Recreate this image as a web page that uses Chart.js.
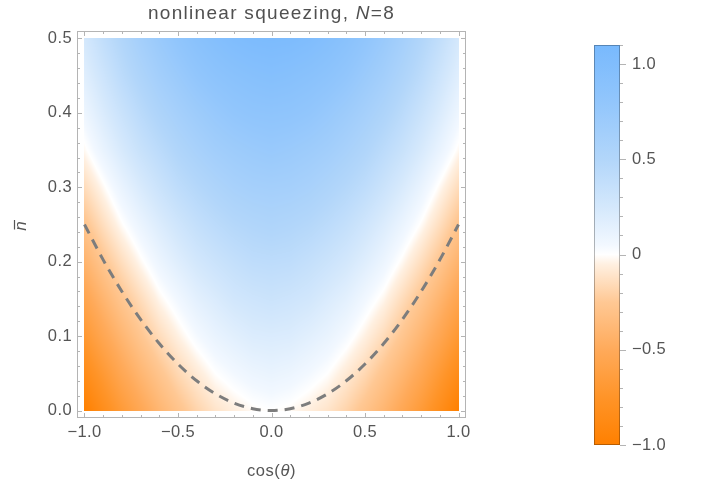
<!DOCTYPE html>
<html><head><meta charset="utf-8">
<script src="https://cdn.jsdelivr.net/npm/chart.js@4.4.1/dist/chart.umd.min.js"></script>
<style>
html,body{margin:0;padding:0;background:#fff;}
#wrap{position:relative;width:704px;height:487px;overflow:hidden;}
#wrap canvas{position:absolute;left:0;top:0;}
</style></head><body>
<div id="wrap"><canvas id="main" width="704" height="487"></canvas><canvas id="cbar" width="704" height="487"></canvas></div>
<script>
// ---------- data ----------
const cosTheta = [-1.0,-0.9,-0.8,-0.7,-0.6,-0.5,-0.4,-0.3,-0.2,-0.1,0.0,0.1,0.2,0.3,0.4,0.5,0.6,0.7,0.8,0.9,1.0];
const nBar = [0.0,0.05,0.10,0.15,0.20,0.25,0.30,0.35,0.40,0.45,0.50];
const squeezing = [
 [-1.00,-0.83,-0.67,-0.53,-0.40,-0.29,-0.19,-0.11,-0.06,-0.02,0.00,-0.02,-0.06,-0.11,-0.19,-0.29,-0.40,-0.53,-0.67,-0.83,-1.00],
 [-0.85,-0.69,-0.53,-0.40,-0.28,-0.17,-0.08,0.00,0.05,0.09,0.11,0.09,0.05,0.00,-0.08,-0.17,-0.28,-0.40,-0.53,-0.69,-0.85],
 [-0.70,-0.54,-0.40,-0.27,-0.15,-0.05,0.04,0.11,0.16,0.20,0.21,0.20,0.16,0.11,0.04,-0.05,-0.15,-0.27,-0.40,-0.54,-0.70],
 [-0.56,-0.41,-0.27,-0.15,-0.03,0.06,0.15,0.21,0.27,0.30,0.32,0.30,0.27,0.21,0.15,0.06,-0.03,-0.15,-0.27,-0.41,-0.56],
 [-0.42,-0.27,-0.14,-0.02,0.09,0.18,0.26,0.32,0.37,0.41,0.42,0.41,0.37,0.32,0.26,0.18,0.09,-0.02,-0.14,-0.27,-0.42],
 [-0.28,-0.14,-0.01,0.10,0.20,0.29,0.37,0.43,0.48,0.51,0.53,0.51,0.48,0.43,0.37,0.29,0.20,0.10,-0.01,-0.14,-0.28],
 [-0.15,-0.02,0.11,0.22,0.32,0.41,0.48,0.54,0.59,0.62,0.63,0.62,0.59,0.54,0.48,0.41,0.32,0.22,0.11,-0.02,-0.15],
 [-0.02,0.11,0.23,0.34,0.43,0.52,0.59,0.65,0.69,0.72,0.74,0.72,0.69,0.65,0.59,0.52,0.43,0.34,0.23,0.11,-0.02],
 [0.08,0.21,0.33,0.44,0.54,0.62,0.69,0.75,0.80,0.83,0.84,0.83,0.80,0.75,0.69,0.62,0.54,0.44,0.33,0.21,0.08],
 [0.17,0.30,0.43,0.54,0.64,0.72,0.80,0.86,0.90,0.93,0.95,0.93,0.90,0.86,0.80,0.72,0.64,0.54,0.43,0.30,0.17],
 [0.25,0.39,0.51,0.63,0.73,0.82,0.90,0.96,1.01,1.04,1.05,1.04,1.01,0.96,0.90,0.82,0.73,0.63,0.51,0.39,0.25]
];
const curveCos = [-1.0,-0.9,-0.8,-0.7,-0.6,-0.5,-0.4,-0.3,-0.2,-0.1,0.0,0.1,0.2,0.3,0.4,0.5,0.6,0.7,0.8,0.9,1.0];
const curveN   = [0.25,0.2025,0.16,0.1225,0.09,0.0625,0.04,0.0225,0.01,0.0025,0.0,0.0025,0.01,0.0225,0.04,0.0625,0.09,0.1225,0.16,0.2025,0.25];

const xTickValues = [-1,-0.5,0,0.5,1];
const xTickLabels = ['\u22121.0','\u22120.5','0.0','0.5','1.0'];
const yTickValues = [0,0.1,0.2,0.3,0.4,0.5];
const yTickLabels = ['0.0','0.1','0.2','0.3','0.4','0.5'];
const barTickValues = [-1,-0.5,0,0.5,1];
const barTickLabels = ['\u22121.0','\u22120.5','0','0.5','1.0'];
const barRange = [-1,1.1];

// ---------- style ----------
const cmapStops = [-1.0,-0.75,-0.5,-0.25,-0.05,0,0.05,0.25,0.5,0.8,1.1];
const cmapRGB = [[255,128,0],[255,148,40],[255,170,90],[255,200,148],[255,240,225],[255,255,255],
                 [242,248,255],[212,232,252],[178,214,250],[146,198,252],[120,185,253]];
const FONT = "'Liberation Sans', Arial, Helvetica, sans-serif";
const TXT = '#555555';
const FRAME = '#b4b4b4';
const TICKSIZE = 16.5;

function cmap(v){
  if (v <= cmapStops[0]) return cmapRGB[0];
  const n = cmapStops.length;
  if (v >= cmapStops[n-1]) return cmapRGB[n-1];
  for (let k=0;k<n-1;k++){
    if (v <= cmapStops[k+1]){
      const t = (v-cmapStops[k])/(cmapStops[k+1]-cmapStops[k]);
      const a = cmapRGB[k], b = cmapRGB[k+1];
      return [a[0]+(b[0]-a[0])*t, a[1]+(b[1]-a[1])*t, a[2]+(b[2]-a[2])*t];
    }
  }
  return cmapRGB[n-1];
}
function locate(arr, v){
  if (v <= arr[0]) return [0,0];
  const n = arr.length;
  if (v >= arr[n-1]) return [n-2,1];
  for (let k=0;k<n-1;k++){
    if (v <= arr[k+1]) return [k,(v-arr[k])/(arr[k+1]-arr[k])];
  }
  return [n-2,1];
}
function sample(xv, nv){
  const [i,tx] = locate(cosTheta, xv);
  const [j,ty] = locate(nBar, nv);
  const a = squeezing[j][i], b = squeezing[j][i+1], c = squeezing[j+1][i], d = squeezing[j+1][i+1];
  return (a*(1-tx)+b*tx)*(1-ty) + (c*(1-tx)+d*tx)*ty;
}
function range(a,b,s){ const out=[]; const n=Math.round((b-a)/s); for(let k=0;k<=n;k++) out.push(+(a+k*s).toFixed(4)); return out; }
const xMinor = range(-1,1,0.1);
const yMinor = range(0,0.5,0.02);
const barMinor = range(-1,1.1,0.1);

// ---------- main chart plugins ----------
const spacingPlugin = { id:'spacing', beforeDraw(chart){ chart.ctx.letterSpacing = '0.4px'; } };

const heatPlugin = {
  id:'heat',
  beforeDatasetsDraw(chart){
    const {ctx, scales:{x,y}} = chart;
    const left = Math.round(x.getPixelForValue(cosTheta[0]));
    const right = Math.round(x.getPixelForValue(cosTheta[cosTheta.length-1]));
    const top = Math.round(y.getPixelForValue(nBar[nBar.length-1]));
    const bottom = Math.round(y.getPixelForValue(nBar[0]));
    const w = right-left, h = bottom-top;
    const off = document.createElement('canvas'); off.width = w; off.height = h;
    const octx = off.getContext('2d');
    const img = octx.createImageData(w,h);
    for (let j=0;j<h;j++){
      const nv = y.getValueForPixel(top+j+0.5);
      for (let i=0;i<w;i++){
        const xv = x.getValueForPixel(left+i+0.5);
        const c = cmap(sample(xv,nv));
        const p = (j*w+i)*4;
        img.data[p]=c[0]; img.data[p+1]=c[1]; img.data[p+2]=c[2]; img.data[p+3]=255;
      }
    }
    octx.putImageData(img,0,0);
    ctx.save();
    ctx.drawImage(off,left,top);
    ctx.restore();
  }
};

const framePlugin = {
  id:'frame',
  afterDraw(chart){
    const {ctx, chartArea:a, scales:{x,y}} = chart;
    ctx.save();
    ctx.strokeStyle = FRAME; ctx.lineWidth = 1;
    ctx.strokeRect(a.left+0.5, a.top+0.5, a.right-a.left-1, a.bottom-a.top-1);
    ctx.beginPath();
    const tick = (vals, len, isX) => {
      vals.forEach(v=>{
        if (isX){
          const px = Math.round(x.getPixelForValue(v))+0.5;
          ctx.moveTo(px,a.bottom); ctx.lineTo(px,a.bottom-len);
          ctx.moveTo(px,a.top); ctx.lineTo(px,a.top+len);
        } else {
          const py = Math.round(y.getPixelForValue(v))+0.5;
          ctx.moveTo(a.left,py); ctx.lineTo(a.left+len,py);
          ctx.moveTo(a.right,py); ctx.lineTo(a.right-len,py);
        }
      });
    };
    tick(xMinor,3,true); tick(xTickValues,5,true);
    tick(yMinor,3,false); tick(yTickValues,5,false);
    ctx.stroke();

    // title
    ctx.fillStyle = '#505050';
    ctx.textBaseline = 'alphabetic';
    ctx.textAlign = 'left';
    ctx.letterSpacing = '1.3px';
    const parts = [['nonlinear squeezing, ','normal'],['N','italic'],['=8','normal']];
    const fs = 19;
    let tot = 0;
    parts.forEach(p=>{ ctx.font = p[1]+' '+fs+'px '+FONT; tot += ctx.measureText(p[0]).width; });
    let cx = (a.left+a.right)/2 - tot/2;
    parts.forEach(p=>{ ctx.font = p[1]+' '+fs+'px '+FONT; ctx.fillText(p[0],cx,19); cx += ctx.measureText(p[0]).width; });

    // x axis label
    ctx.fillStyle = TXT;
    ctx.letterSpacing = '0.6px';
    const xl = [['cos(','normal'],['\u03b8','italic'],[')','normal']];
    tot = 0;
    xl.forEach(p=>{ ctx.font = p[1]+' '+TICKSIZE+'px '+FONT; tot += ctx.measureText(p[0]).width; });
    cx = (a.left+a.right)/2 - tot/2;
    xl.forEach(p=>{ ctx.font = p[1]+' '+TICKSIZE+'px '+FONT; ctx.fillText(p[0],cx,476); cx += ctx.measureText(p[0]).width; });

    // y axis label (n with overbar)
    ctx.translate(26,226);
    ctx.rotate(-Math.PI/2);
    ctx.font = 'italic 17px '+FONT;
    ctx.letterSpacing = '0px';
    ctx.textAlign = 'center';
    ctx.fillText('n',0,0);
    ctx.strokeStyle = TXT; ctx.lineWidth = 1.2;
    ctx.beginPath(); ctx.moveTo(-3.5,-11.5); ctx.lineTo(6,-11.5); ctx.stroke();
    ctx.restore();
  }
};

new Chart(document.getElementById('main'), {
  type:'scatter',
  data:{ datasets:[{
    data: curveCos.map((c,i)=>({x:c,y:curveN[i]})),
    showLine:true, pointRadius:0, borderColor:'rgb(125,125,125)', borderWidth:3,
    borderDash:[10,7], cubicInterpolationMode:'monotone', fill:false
  }]},
  options:{
    responsive:false, animation:false, devicePixelRatio:1,
    layout:{ padding:{ left:0, right:238, top:31, bottom:0 } },
    plugins:{ legend:{display:false}, title:{display:false}, tooltip:{enabled:false} },
    scales:{
      x:{ type:'linear', min:-1.04, max:1.04,
          afterBuildTicks:(s)=>{ s.ticks = xTickValues.map(v=>({value:v})); },
          afterFit:(s)=>{ s.height = 69; },
          ticks:{ autoSkip:false, maxRotation:0, padding:5, color:TXT, font:{family:FONT,size:TICKSIZE},
                  callback:(v,i)=>xTickLabels[i] },
          grid:{ display:false, drawTicks:false, tickLength:0 }, border:{display:false} },
      y:{ type:'linear', min:-0.01, max:0.51,
          afterBuildTicks:(s)=>{ s.ticks = yTickValues.map(v=>({value:v})); },
          afterFit:(s)=>{ s.width = 77; },
          ticks:{ autoSkip:false, padding:5, color:TXT, font:{family:FONT,size:TICKSIZE},
                  callback:(v,i)=>yTickLabels[i] },
          grid:{ display:false, drawTicks:false, tickLength:0 }, border:{display:false} }
    }
  },
  plugins:[spacingPlugin, heatPlugin, framePlugin]
});

// ---------- colour bar ----------
function barGradient(chart, dark){
  const {ctx, scales:{y}} = chart;
  const y0 = y.getPixelForValue(barRange[0]), y1 = y.getPixelForValue(barRange[1]);
  const g = ctx.createLinearGradient(0,y0,0,y1);
  cmapStops.forEach((v,k)=>{
    const c = cmapRGB[k], f = dark ? 0.72 : 1;
    g.addColorStop((v-barRange[0])/(barRange[1]-barRange[0]),
      'rgb('+Math.round(c[0]*f)+','+Math.round(c[1]*f)+','+Math.round(c[2]*f)+')');
  });
  return g;
}
const cbarPlugin = {
  id:'cbarDeco',
  afterDraw(chart){
    const {ctx, chartArea:a, scales:{y}} = chart;
    ctx.save();
    ctx.strokeStyle = barGradient(chart,true); ctx.lineWidth = 1;
    ctx.strokeRect(a.left+0.5, a.top+0.5, a.right-a.left-1, a.bottom-a.top-1);
    ctx.strokeStyle = FRAME;
    ctx.beginPath();
    barMinor.forEach(v=>{ const py=Math.round(y.getPixelForValue(v))+0.5; ctx.moveTo(a.right,py); ctx.lineTo(a.right+3,py); });
    barTickValues.forEach(v=>{ const py=Math.round(y.getPixelForValue(v))+0.5; ctx.moveTo(a.right,py); ctx.lineTo(a.right+6,py); });
    ctx.stroke();
    ctx.restore();
  }
};
new Chart(document.getElementById('cbar'), {
  type:'bar',
  data:{ labels:['value'], datasets:[{
    data:[barRange],
    backgroundColor:(c)=>{ const ch=c.chart; if(!ch.chartArea) return '#ccc'; return barGradient(ch,false); },
    borderWidth:0, barPercentage:1, categoryPercentage:1, borderSkipped:false
  }]},
  options:{
    responsive:false, animation:false, devicePixelRatio:1,
    layout:{ padding:{ left:594, right:0, top:45, bottom:42 } },
    plugins:{ legend:{display:false}, title:{display:false}, tooltip:{enabled:false} },
    scales:{
      x:{ display:false },
      y:{ position:'right', min:barRange[0], max:barRange[1],
          afterBuildTicks:(s)=>{ s.ticks = barTickValues.map(v=>({value:v})); },
          afterFit:(s)=>{ s.width = 84; },
          ticks:{ autoSkip:false, padding:12, color:TXT, font:{family:FONT,size:TICKSIZE},
                  callback:(v,i)=>barTickLabels[i] },
          grid:{ display:false, drawTicks:false, tickLength:0 }, border:{display:false} }
    }
  },
  plugins:[spacingPlugin, cbarPlugin]
});
</script>
</body></html>
